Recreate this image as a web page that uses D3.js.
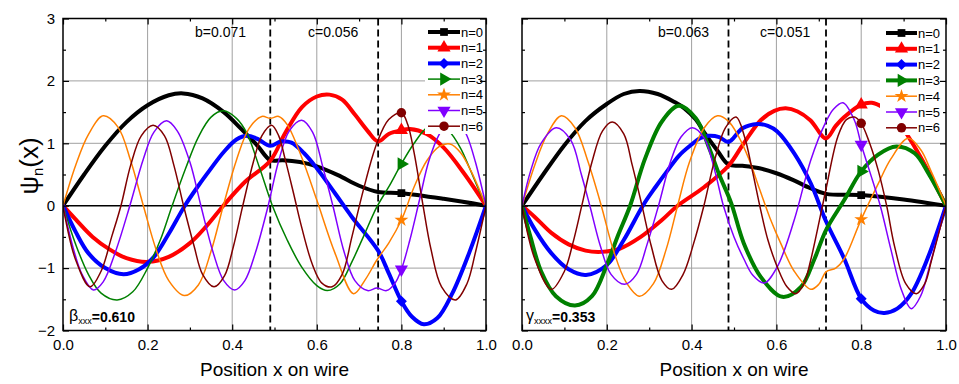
<!DOCTYPE html>
<html>
<head>
<meta charset="utf-8">
<script src="https://cdn.jsdelivr.net/npm/d3@7"></script>
<style>
  body { margin: 0; background: #fff; }
  svg { display: block; }
  text { font-family: Arial, "Liberation Sans", sans-serif; }
</style>
</head>
<body>
<svg id="chart" width="959" height="384"></svg>
<script>
// ---- axis ticks and labels ----
const xTicks = [0, 0.2, 0.4, 0.6, 0.8, 1.0];
const xMinor = [0.1, 0.3, 0.5, 0.7, 0.9];
const yTicks = [-2, -1, 0, 1, 2, 3];
const yMinor = [-1.5, -0.5, 0.5, 1.5, 2.5];
const gridX = [0.2, 0.4, 0.6, 0.8];
const gridY = [-1, 1, 2];
const xTitle = "Position x on wire";

// ---- series ----
const stateLabels = ["n=0", "n=1", "n=2", "n=3", "n=4", "n=5", "n=6"];
const stateColors = ["#000000", "#ff0000", "#0000ff", "#008000", "#ff8000", "#8000ff", "#800000"];
const markerX = 0.8;

// ---- left panel: beta_xxx = 0.610 ----
const betaJunctions = [0.49, 0.745];
const betaNotes = ["b=0.071", "c=0.056"];
const betaThick = [true, true, true, false, false, false, false];
const betaN0 = [[0,0],[0.05,0.5],[0.1,0.96],[0.15,1.34],[0.2,1.61],[0.25,1.77],[0.284,1.8],[0.33,1.72],[0.38,1.5],[0.42,1.24],[0.46,0.96],[0.49,0.73],[0.52,0.73],[0.56,0.7],[0.6,0.63],[0.65,0.49],[0.7,0.32],[0.745,0.22],[0.8,0.2],[0.9,0.11],[1,0]];
const betaN1 = [[0,0],[0.03,-0.22],[0.07,-0.5],[0.11,-0.7],[0.15,-0.84],[0.2,-0.9],[0.25,-0.82],[0.3,-0.6],[0.34,-0.32],[0.379,0],[0.43,0.38],[0.49,0.72],[0.525,1.16],[0.565,1.58],[0.6,1.75],[0.63,1.78],[0.66,1.7],[0.69,1.46],[0.72,1.2],[0.745,1.03],[0.77,1.15],[0.8,1.21],[0.82,1.23],[0.86,1.15],[0.9,0.93],[0.95,0.5],[1,0]];
const betaN2 = [[0,0],[0.03,-0.42],[0.06,-0.76],[0.1,-1.0],[0.143,-1.1],[0.18,-1.02],[0.215,-0.82],[0.25,-0.45],[0.288,0],[0.32,0.32],[0.347,0.57],[0.38,0.86],[0.41,1.06],[0.435,1.12],[0.46,1.07],[0.49,0.96],[0.515,1.03],[0.54,1.01],[0.57,0.84],[0.6,0.6],[0.643,0.2],[0.683,-0.18],[0.745,-0.72],[0.77,-1.08],[0.8,-1.53],[0.825,-1.78],[0.853,-1.9],[0.885,-1.8],[0.92,-1.41],[0.96,-0.76],[1,0]];
const betaN3 = [[0,0],[0.03,-0.62],[0.06,-1.1],[0.09,-1.4],[0.128,-1.51],[0.165,-1.38],[0.2,-1.0],[0.23,-0.55],[0.258,0],[0.29,0.6],[0.32,1.1],[0.35,1.42],[0.379,1.52],[0.41,1.4],[0.434,1.17],[0.465,0.6],[0.495,0],[0.53,-0.55],[0.564,-0.98],[0.6,-1.28],[0.625,-1.36],[0.655,-1.25],[0.683,-0.9],[0.71,-0.5],[0.742,-0.02],[0.77,0.3],[0.8,0.67],[0.83,1.0],[0.86,1.25],[0.885,1.32],[0.912,1.2],[0.94,0.92],[0.96,0.62],[0.98,0.3],[1,0]];
const betaN4 = [[0,0],[0.03,0.65],[0.06,1.14],[0.095,1.44],[0.13,1.26],[0.16,0.72],[0.19,0],[0.22,-0.7],[0.25,-1.2],[0.287,-1.44],[0.32,-1.27],[0.35,-0.73],[0.379,0],[0.41,0.73],[0.44,1.24],[0.47,1.43],[0.49,1.4],[0.51,1.43],[0.53,1.3],[0.564,0.78],[0.6,0.09],[0.643,-0.76],[0.687,-1.41],[0.715,-1.18],[0.742,-0.87],[0.77,-0.6],[0.8,-0.23],[0.83,0.3],[0.86,0.72],[0.89,0.95],[0.915,0.99],[0.94,0.85],[0.965,0.55],[1,0]];
const betaN5 = [[0,0],[0.025,-0.7],[0.045,-1.1],[0.072,-1.35],[0.095,-1.22],[0.125,-0.72],[0.158,0],[0.19,0.75],[0.215,1.18],[0.245,1.36],[0.27,1.2],[0.3,0.7],[0.326,0],[0.355,-0.75],[0.38,-1.2],[0.406,-1.35],[0.43,-1.2],[0.455,-0.75],[0.485,0],[0.51,0.72],[0.535,1.2],[0.564,1.37],[0.59,1.18],[0.615,0.6],[0.638,0],[0.665,-0.75],[0.69,-1.2],[0.72,-1.36],[0.742,-1.32],[0.765,-1.36],[0.785,-1.24],[0.8,-1.02],[0.82,-0.55],[0.843,0.1],[0.865,0.72],[0.89,1.15],[0.915,1.38],[0.935,1.35],[0.955,1.12],[0.975,0.7],[1,0]];
const betaN6 = [[0,0],[0.03,-0.87],[0.064,-1.3],[0.09,-1.05],[0.115,-0.5],[0.137,0],[0.16,0.65],[0.185,1.12],[0.213,1.29],[0.24,1.12],[0.262,0.65],[0.285,0],[0.31,-0.65],[0.33,-1.1],[0.357,-1.3],[0.382,-1.12],[0.403,-0.65],[0.425,0],[0.45,0.7],[0.47,1.12],[0.493,1.29],[0.51,1.12],[0.525,0.75],[0.545,0.2],[0.564,-0.34],[0.59,-0.95],[0.612,-1.24],[0.636,-1.3],[0.66,-1.1],[0.683,-0.5],[0.71,0.25],[0.742,1.0],[0.77,1.38],[0.8,1.49],[0.815,1.3],[0.83,0.85],[0.85,0.05],[0.87,-0.7],[0.895,-1.3],[0.928,-1.51],[0.955,-1.25],[0.975,-0.75],[1,0]];

// ---- right panel: gamma_xxxx = 0.353 ----
const gammaJunctions = [0.487, 0.717];
const gammaNotes = ["b=0.063", "c=0.051"];
const gammaThick = [true, true, true, true, false, false, false];
const gammaN0 = [[0,0],[0.05,0.5],[0.1,0.97],[0.15,1.36],[0.2,1.63],[0.24,1.79],[0.277,1.84],[0.32,1.79],[0.36,1.66],[0.383,1.56],[0.41,1.38],[0.43,1.17],[0.461,0.88],[0.487,0.66],[0.52,0.64],[0.56,0.6],[0.6,0.52],[0.64,0.41],[0.68,0.28],[0.717,0.19],[0.8,0.17],[0.9,0.1],[0.96,0.04],[1,0]];
const gammaN1 = [[0,0],[0.03,-0.18],[0.07,-0.44],[0.11,-0.62],[0.15,-0.72],[0.187,-0.74],[0.23,-0.69],[0.28,-0.5],[0.33,-0.23],[0.367,0],[0.43,0.3],[0.487,0.64],[0.523,1.0],[0.563,1.37],[0.595,1.52],[0.622,1.56],[0.65,1.51],[0.68,1.37],[0.717,1.08],[0.74,1.28],[0.76,1.42],[0.8,1.62],[0.825,1.65],[0.85,1.58],[0.88,1.4],[0.91,1.12],[0.94,0.78],[0.97,0.4],[1,0]];
const gammaN2 = [[0,0],[0.03,-0.38],[0.069,-0.76],[0.11,-1.02],[0.151,-1.11],[0.2,-0.95],[0.24,-0.55],[0.285,0],[0.315,0.3],[0.344,0.57],[0.37,0.8],[0.398,0.97],[0.42,1.08],[0.44,1.12],[0.465,1.1],[0.487,1.02],[0.52,1.24],[0.555,1.31],[0.58,1.28],[0.602,1.19],[0.642,0.84],[0.681,0.36],[0.717,-0.25],[0.76,-0.85],[0.8,-1.49],[0.83,-1.68],[0.855,-1.72],[0.885,-1.65],[0.918,-1.41],[0.958,-0.82],[1,0]];
const gammaN3 = [[0,0],[0.02,-0.5],[0.045,-1.05],[0.08,-1.45],[0.125,-1.6],[0.165,-1.45],[0.2,-0.95],[0.225,-0.5],[0.255,0],[0.29,0.75],[0.33,1.35],[0.37,1.6],[0.41,1.4],[0.44,0.95],[0.465,0.5],[0.493,0.05],[0.523,-0.6],[0.563,-1.14],[0.614,-1.46],[0.658,-1.3],[0.69,-0.85],[0.717,-0.39],[0.76,0.09],[0.8,0.55],[0.84,0.82],[0.883,0.95],[0.926,0.84],[0.96,0.5],[1,0]];
const gammaN4 = [[0,0],[0.03,0.65],[0.06,1.15],[0.093,1.44],[0.125,1.25],[0.155,0.72],[0.187,0],[0.215,-0.7],[0.245,-1.22],[0.277,-1.45],[0.31,-1.25],[0.34,-0.7],[0.367,0],[0.395,0.7],[0.43,1.25],[0.461,1.44],[0.486,1.36],[0.51,1.12],[0.535,0.75],[0.56,0.27],[0.585,-0.2],[0.61,-0.6],[0.642,-1.05],[0.681,-1.34],[0.7,-1.26],[0.717,-1.06],[0.74,-1.0],[0.76,-0.85],[0.8,-0.22],[0.84,0.35],[0.87,0.75],[0.911,1.08],[0.94,0.9],[0.965,0.55],[1,0]];
const gammaN5 = [[0,0],[0.02,0.55],[0.045,1.0],[0.081,1.25],[0.115,1.05],[0.14,0.5],[0.16,0],[0.185,-0.65],[0.21,-1.1],[0.242,-1.26],[0.27,-1.1],[0.295,-0.62],[0.322,0],[0.35,0.7],[0.375,1.1],[0.402,1.25],[0.43,1.08],[0.455,0.55],[0.475,0],[0.5,-0.5],[0.523,-0.85],[0.545,-1.12],[0.571,-1.24],[0.602,-0.98],[0.642,-0.23],[0.681,0.73],[0.715,1.32],[0.735,1.55],[0.757,1.65],[0.784,1.37],[0.8,0.98],[0.82,0.55],[0.845,0],[0.87,-0.7],[0.895,-1.35],[0.918,-1.65],[0.94,-1.45],[0.96,-1.0],[0.98,-0.5],[1,0]];
const gammaN6 = [[0,0],[0.03,-0.85],[0.069,-1.34],[0.1,-1.05],[0.12,-0.6],[0.141,0],[0.165,0.7],[0.19,1.2],[0.213,1.34],[0.24,1.15],[0.26,0.65],[0.283,0],[0.305,-0.65],[0.33,-1.2],[0.353,-1.34],[0.38,-1.1],[0.405,-0.6],[0.429,0],[0.455,0.75],[0.48,1.25],[0.505,1.42],[0.525,1.1],[0.543,0.57],[0.563,-0.07],[0.58,-0.55],[0.602,-0.98],[0.625,-1.3],[0.646,-1.41],[0.665,-1.25],[0.681,-0.87],[0.715,0.2],[0.745,1.11],[0.765,1.38],[0.784,1.42],[0.8,1.32],[0.82,1.0],[0.84,0.57],[0.86,0.0],[0.879,-0.66],[0.905,-1.25],[0.93,-1.41],[0.95,-1.25],[0.966,-0.87],[1,0]];

// ---- marker shapes (symbol, rotation in degrees, area) ----
const markerShapes = [
  [d3.symbolSquare, 0, 60],
  [d3.symbolTriangle, 0, 75],
  [d3.symbolSquare, 45, 60],
  [d3.symbolTriangle, 90, 75],
  [d3.symbolStar, 0, 60],
  [d3.symbolTriangle, 180, 75],
  [d3.symbolCircle, 0, 70]
];

const svg = d3.select("#chart");
const y = d3.scaleLinear().domain([-2, 3]).range([330.5, 18.5]);

const panels = [
  { id: "beta", x: d3.scaleLinear().domain([0, 1]).range([63, 486]),
    series: [betaN0, betaN1, betaN2, betaN3, betaN4, betaN5, betaN6],
    thick: betaThick, junctions: betaJunctions, notes: betaNotes, noteX: [195, 308],
    yLabels: true, legend: { x0: 425, y0: 19.5, y1: 134, lineX: [428, 460], rowY: 32, rowStep: 15.7 },
    coef: { sym: "β", sub: "xxx", val: "=0.610", x: 69 } },
  { id: "gamma", x: d3.scaleLinear().domain([0, 1]).range([522, 946]),
    series: [gammaN0, gammaN1, gammaN2, gammaN3, gammaN4, gammaN5, gammaN6],
    thick: gammaThick, junctions: gammaJunctions, notes: gammaNotes, noteX: [658, 760],
    yLabels: false, legend: { x0: 880, y0: 19.5, y1: 135, lineX: [886, 917], rowY: 33, rowStep: 15.8 },
    coef: { sym: "γ", sub: "xxxx", val: "=0.353", x: 526 } }
];

function symbolPath(i) {
  const [type, , size] = markerShapes[i];
  return d3.symbol().type(type).size(size)();
}

panels.forEach(p => {
  const x = p.x;
  const [left, right] = x.range();
  const [bottom, top] = y.range();
  const g = svg.append("g").attr("class", "panel-" + p.id);

  g.append("clipPath").attr("id", "clip-" + p.id)
    .append("rect").attr("x", left).attr("y", top)
    .attr("width", right - left).attr("height", bottom - top);

  // grid
  g.append("g").selectAll("line").data(gridX).join("line")
    .attr("x1", d => x(d)).attr("x2", d => x(d)).attr("y1", top).attr("y2", bottom)
    .attr("stroke", "#a0a0a0").attr("stroke-width", 1);
  g.append("g").selectAll("line").data(gridY).join("line")
    .attr("x1", left).attr("x2", right).attr("y1", d => y(d)).attr("y2", d => y(d))
    .attr("stroke", "#a0a0a0").attr("stroke-width", 1);
  g.append("line").attr("x1", left).attr("x2", right).attr("y1", y(0)).attr("y2", y(0))
    .attr("stroke", "#000").attr("stroke-width", 1.5);

  // junction positions
  g.append("g").selectAll("line").data(p.junctions).join("line")
    .attr("x1", d => x(d)).attr("x2", d => x(d)).attr("y1", top).attr("y2", bottom)
    .attr("stroke", "#000").attr("stroke-width", 1.8).attr("stroke-dasharray", "7,4");

  g.append("g").selectAll("text").data(p.notes).join("text")
    .attr("x", (d, i) => p.noteX[i]).attr("y", 37)
    .attr("font-size", 14).attr("fill", "#000").text(d => d);

  // wavefunctions
  const line = d3.line().x(d => x(d[0])).y(d => y(d[1])).curve(d3.curveCatmullRom.alpha(0.5));
  const curves = g.append("g").attr("clip-path", "url(#clip-" + p.id + ")");
  p.series.forEach((data, i) => {
    curves.append("path").datum(data)
      .attr("d", line).attr("fill", "none")
      .attr("stroke", stateColors[i])
      .attr("stroke-width", p.thick[i] ? 4 : 1.5)
      .attr("stroke-linejoin", "round").attr("stroke-linecap", "round");
    const m = data.find(d => d[0] === markerX);
    curves.append("path").attr("d", symbolPath(i))
      .attr("transform", `translate(${x(m[0])},${y(m[1])}) rotate(${markerShapes[i][1]})`)
      .attr("fill", stateColors[i]);
  });

  // legend
  const L = p.legend;
  g.append("rect").attr("x", L.x0).attr("y", L.y0)
    .attr("width", right - L.x0).attr("height", L.y1 - L.y0).attr("fill", "#fff");
  const rows = g.append("g").selectAll("g").data(stateLabels).join("g")
    .attr("transform", (d, i) => `translate(0,${L.rowY + i * L.rowStep})`);
  rows.append("line").attr("x1", L.lineX[0]).attr("x2", L.lineX[1])
    .attr("stroke", (d, i) => stateColors[i])
    .attr("stroke-width", (d, i) => p.thick[i] ? 4 : 1.5);
  rows.append("path").attr("d", (d, i) => symbolPath(i))
    .attr("transform", (d, i) => `translate(${(L.lineX[0] + L.lineX[1]) / 2},0) rotate(${markerShapes[i][1]})`)
    .attr("fill", (d, i) => stateColors[i]);
  rows.append("text").attr("x", L.lineX[1] + 1).attr("y", 4.6)
    .attr("font-size", 13).attr("fill", "#000").text(d => d);

  // coefficient annotation
  const c = g.append("text").attr("x", p.coef.x).attr("y", 321).attr("fill", "#000");
  c.append("tspan").attr("font-size", 16).text(p.coef.sym);
  c.append("tspan").attr("font-size", 9).attr("dy", 3).text(p.coef.sub);
  c.append("tspan").attr("font-size", 14).attr("font-weight", "bold").attr("dy", -2).text(p.coef.val);

  // frame
  g.append("rect").attr("x", left).attr("y", top).attr("width", right - left).attr("height", bottom - top)
    .attr("fill", "none").attr("stroke", "#000").attr("stroke-width", 1.5);

  // inward ticks on all four sides
  const tickStyle = sel => {
    sel.select(".domain").remove();
    sel.selectAll(".tick line").attr("stroke", "#000").attr("stroke-width", 1.2);
    sel.selectAll(".tick text").attr("font-size", 15).attr("fill", "#000")
      .attr("font-family", "Arial, 'Liberation Sans', sans-serif");
  };
  const ax = (gen, tx, ty) => g.append("g").attr("transform", `translate(${tx},${ty})`).call(gen).call(tickStyle);

  ax(d3.axisBottom(x).tickValues(xTicks).tickFormat(d3.format(".1f")).tickSizeInner(-6).tickSizeOuter(0).tickPadding(9), 0, bottom);
  ax(d3.axisBottom(x).tickValues(xMinor).tickFormat("").tickSizeInner(-3).tickSizeOuter(0), 0, bottom);
  ax(d3.axisTop(x).tickValues(xTicks).tickFormat("").tickSizeInner(-6).tickSizeOuter(0), 0, top);
  ax(d3.axisTop(x).tickValues(xMinor).tickFormat("").tickSizeInner(-3).tickSizeOuter(0), 0, top);
  ax(d3.axisLeft(y).tickValues(yTicks).tickFormat(p.yLabels ? d3.format("d") : "").tickSizeInner(-6).tickSizeOuter(0).tickPadding(8), left, 0);
  ax(d3.axisLeft(y).tickValues(yMinor).tickFormat("").tickSizeInner(-3).tickSizeOuter(0), left, 0);
  ax(d3.axisRight(y).tickValues(yTicks).tickFormat("").tickSizeInner(-6).tickSizeOuter(0), right, 0);
  ax(d3.axisRight(y).tickValues(yMinor).tickFormat("").tickSizeInner(-3).tickSizeOuter(0), right, 0);

  // x axis title
  g.append("text").attr("x", (left + right) / 2).attr("y", 376)
    .attr("text-anchor", "middle").attr("font-size", 19).attr("fill", "#000").text(xTitle);
});

// y axis title: psi_n(x)
const yt = svg.append("text").attr("transform", "translate(38,166) rotate(-90)")
  .attr("text-anchor", "middle").attr("font-size", 26).attr("fill", "#000");
yt.append("tspan").text("ψ");
yt.append("tspan").attr("font-size", 15).attr("dy", 5).text("n");
yt.append("tspan").attr("dy", -5).text("(x)");
</script>
</body>
</html>
